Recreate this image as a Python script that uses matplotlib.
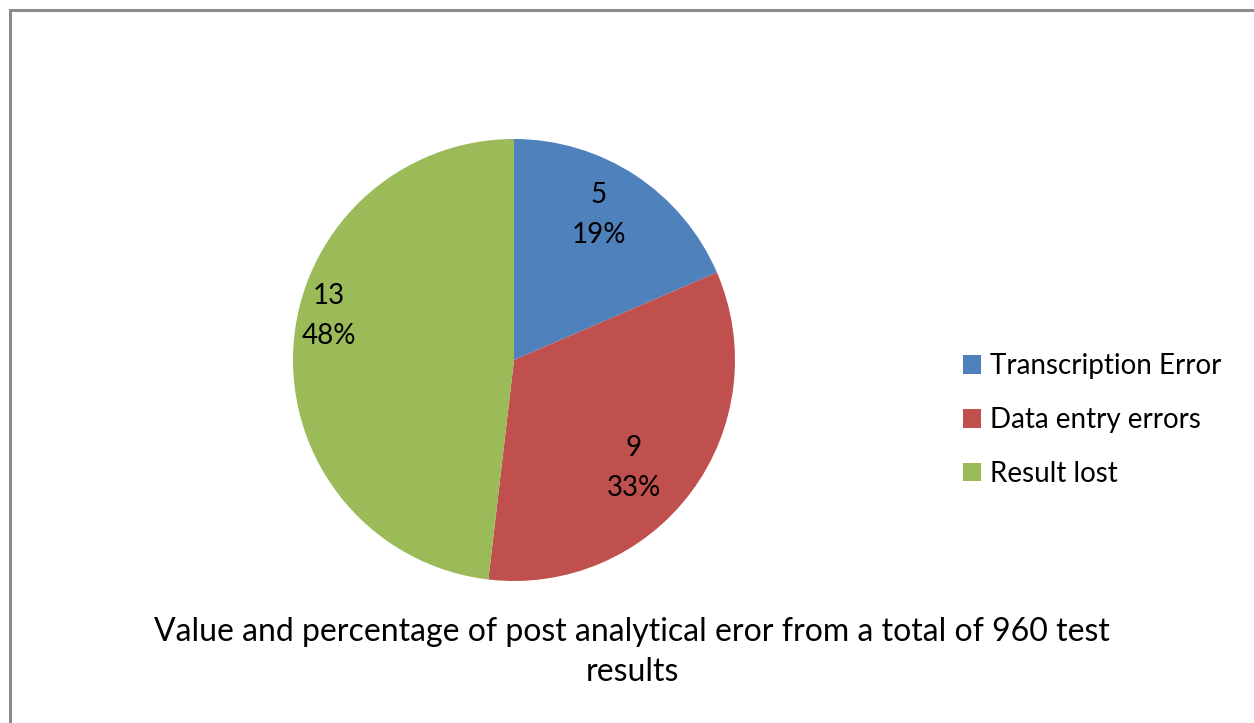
import matplotlib.pyplot as plt
import numpy as np
from matplotlib.patches import Rectangle, Patch

# Datos del gráfico
categorias = ['Transcription Error', 'Data entry errors', 'Result lost']
valores = [5, 9, 13]
colores = ['#4F81BD', '#C0504D', '#9BBB59']
titulo = 'Value and percentage of post analytical eror from a total of 960 test\nresults'

W, H = 1254, 723
fig = plt.figure(figsize=(W / 100, H / 100), dpi=100)
plt.rcParams['font.family'] = ['Lato', 'DejaVu Sans']

# marco gris
fig.patches.append(Rectangle((10 / W, -0.1), 1.2, (H - 10) / H + 0.1, transform=fig.transFigure,
                             fill=False, edgecolor='#8a8a8a', linewidth=2.2))

# ejes del pastel (centro 514,360 ; radio 221 px)
r = 221
cx, cy = 514, H - 360
ax = fig.add_axes([(cx - r) / W, (cy - r) / H, 2 * r / W, 2 * r / H])
wedges, _ = ax.pie(valores, colors=colores, startangle=90, counterclock=False,
                   wedgeprops=dict(linewidth=0))
ax.set_xlim(-1, 1)
ax.set_ylim(-1, 1)
ax.set_aspect('equal')
ax.axis('off')

# etiquetas: valor y porcentaje
total = sum(valores)
dist = [0.76, 0.73, 0.86]
giro = [3, -5.5, -10]
for w, v, d, g in zip(wedges, valores, dist, giro):
    ang = np.deg2rad((w.theta1 + w.theta2) / 2 + g)
    ax.text(d * np.cos(ang), d * np.sin(ang), f'{v}\n{v / total * 100:.0f}%',
            ha='center', va='center', fontsize=20, linespacing=1.65)

# leyenda
handles = [Patch(facecolor=c, edgecolor='none') for c in colores]
fig.legend(handles, categorias, loc='center left', bbox_to_anchor=(938 / W, (H - 420) / H),
           frameon=False, fontsize=20, handlelength=0.65, handleheight=0.65,
           handletextpad=0.32, labelspacing=1.0)

fig.text(632 / W, (H - 652) / H, titulo, ha='center', va='center', fontsize=23,
         linespacing=1.4)

fig.savefig('out.png', dpi=100)
